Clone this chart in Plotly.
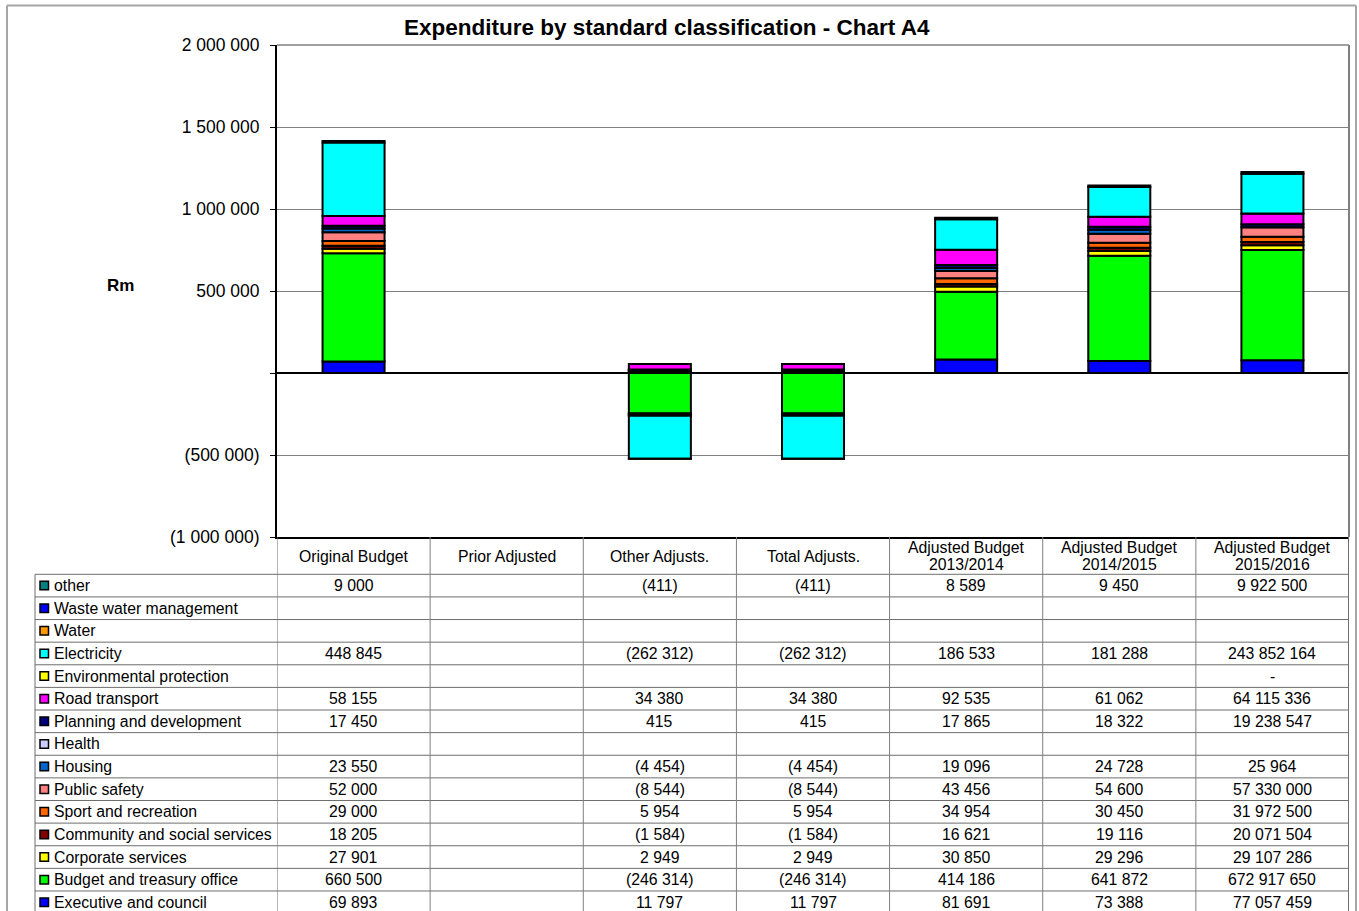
import plotly.graph_objects as go

# ---- data -------------------------------------------------------------
categories = [
    "Original Budget",
    "Prior Adjusted",
    "Other Adjusts.",
    "Total Adjusts.",
    "Adjusted Budget\n2013/2014",
    "Adjusted Budget\n2014/2015",
    "Adjusted Budget\n2015/2016",
]

# the last column of the table is stated in Rand, the others in R thousand
unit_divisor = [1, 1, 1, 1, 1, 1, 1000]

# series listed from the bottom of the stack upwards
series_names = [
    "Executive and council",
    "Budget and treasury office",
    "Corporate services",
    "Community and social services",
    "Sport and recreation",
    "Public safety",
    "Housing",
    "Health",
    "Planning and development",
    "Road transport",
    "Environmental protection",
    "Electricity",
    "Water",
    "Waste water management",
    "other",
]

executive = [69893, None, 11797, 11797, 81691, 73388, 77057459]
budget_treasury = [660500, None, -246314, -246314, 414186, 641872, 672917650]
corporate = [27901, None, 2949, 2949, 30850, 29296, 29107286]
community = [18205, None, -1584, -1584, 16621, 19116, 20071504]
sport = [29000, None, 5954, 5954, 34954, 30450, 31972500]
public_safety = [52000, None, -8544, -8544, 43456, 54600, 57330000]
housing = [23550, None, -4454, -4454, 19096, 24728, 25964]
health = [None, None, None, None, None, None, None]
planning = [17450, None, 415, 415, 17865, 18322, 19238547]
road_transport = [58155, None, 34380, 34380, 92535, 61062, 64115336]
environmental = [None, None, None, None, None, None, 0]
electricity = [448845, None, -262312, -262312, 186533, 181288, 243852164]
water = [None, None, None, None, None, None, None]
waste_water = [None, None, None, None, None, None, None]
other = [9000, None, -411, -411, 8589, 9450, 9922500]

series_values = [
    executive, budget_treasury, corporate, community, sport, public_safety,
    housing, health, planning, road_transport, environmental, electricity,
    water, waste_water, other,
]

series_colors = [
    "#0000FF", "#00FF00", "#FFFF00", "#800000", "#FF6600", "#FF8080",
    "#0066CC", "#CCCCFF", "#000080", "#FF00FF", "#FFFF00", "#00FFFF",
    "#FF9900", "#0000FF", "#008080",
]

y_ticks = [-1000000, -500000, 0, 500000, 1000000, 1500000, 2000000]

FONT = "Liberation Sans, Arial, sans-serif"
TABLE_FONT_SIZE = 15.8


def fmt(v):
    """Accounting style: spaces as thousands separators, negatives in brackets."""
    if v is None:
        return ""
    if v == 0:
        return "-"
    s = f"{abs(round(v)):,}".replace(",", " ")
    return f"({s})" if v < 0 else s


def fmt_axis(v):
    return "" if v == 0 else fmt(v)


# ---- geometry of the plot area (pixels) -------------------------------
FIG_W, FIG_H = 1359, 911
L, R, T, B = 277, 1349, 45, 537
W, H = R - L, B - T


def px(x):
    return (x - L) / W


def py(y):
    return (B - y) / H


fig = go.Figure()

for name, vals, col in zip(series_names, series_values, series_colors):
    chart_vals = [None if v is None else v / d for v, d in zip(vals, unit_divisor)]
    fig.add_trace(go.Bar(
        x=list(range(len(categories))),
        y=chart_vals,
        name=name,
        marker=dict(color=col, line=dict(color="black", width=2)),
        showlegend=False,
        hoverinfo="skip",
    ))

shapes = []
annotations = []

# outer chart frame
frame = dict(color="#a6a6a6", width=2)
shapes.append(dict(type="line", xref="paper", yref="paper",
                   x0=px(7), x1=px(7), y0=py(5.5), y1=py(FIG_H + 20), line=frame))
shapes.append(dict(type="line", xref="paper", yref="paper",
                   x0=px(7), x1=px(1356), y0=py(5.5), y1=py(5.5), line=frame))
shapes.append(dict(type="line", xref="paper", yref="paper",
                   x0=px(1356), x1=px(1356), y0=py(5.5), y1=py(FIG_H + 20), line=frame))

# top and right edges of the plot area
shapes.append(dict(type="line", xref="paper", yref="paper",
                   x0=0, x1=1, y0=1, y1=1, line=dict(color="#808080", width=1.5)))
shapes.append(dict(type="line", xref="paper", yref="paper",
                   x0=1, x1=1, y0=0, y1=1, line=dict(color="#808080", width=2)))

# ---- data table under the chart ---------------------------------------
HEADER_BOTTOM = 574.3
ROW_H = 22.62
TABLE_LEFT = 35
KEY_X0, KEY_SIZE = 40, 8.5
LABEL_X = 52
grid_col = "#6e6e6e"
n_rows = len(series_names)

# horizontal rules
for i in range(n_rows + 1):
    yy = HEADER_BOTTOM + i * ROW_H
    shapes.append(dict(type="line", xref="paper", yref="paper",
                       x0=px(TABLE_LEFT), x1=1, y0=py(yy), y1=py(yy),
                       line=dict(color=grid_col, width=1)))
# vertical rules
table_bottom = py(FIG_H + 20)
shapes.append(dict(type="line", xref="paper", yref="paper",
                   x0=px(TABLE_LEFT), x1=px(TABLE_LEFT), y0=py(HEADER_BOTTOM), y1=table_bottom,
                   line=dict(color=grid_col, width=1)))
for k in range(len(categories) + 1):
    shapes.append(dict(type="line", xref="x", yref="paper",
                       x0=k - 0.5, x1=k - 0.5, y0=0, y1=table_bottom,
                       line=dict(color="#808080" if 0 < k < len(categories) else grid_col,
                                 width=2 if k == len(categories) else 1)))

# header row: category names
for k, cat in enumerate(categories):
    lines = cat.split("\n")
    centres = [556] if len(lines) == 1 else [547.5, 564]
    for text, yc in zip(lines, centres):
        annotations.append(dict(xref="x", yref="paper", x=k, y=py(yc),
                                text=text, showarrow=False, xanchor="center", yanchor="middle",
                                font=dict(family=FONT, size=TABLE_FONT_SIZE, color="black")))

# body rows: legend key, series name, values (top row = last series)
for r, idx in enumerate(reversed(range(n_rows))):
    yc = HEADER_BOTTOM + r * ROW_H + ROW_H / 2
    shapes.append(dict(type="rect", xref="paper", yref="paper",
                       x0=px(KEY_X0), x1=px(KEY_X0 + KEY_SIZE),
                       y0=py(yc + KEY_SIZE / 2), y1=py(yc - KEY_SIZE / 2),
                       fillcolor=series_colors[idx], line=dict(color="black", width=1.5)))
    annotations.append(dict(xref="paper", yref="paper", x=px(LABEL_X), y=py(yc),
                            text=series_names[idx], showarrow=False,
                            xanchor="left", yanchor="middle",
                            font=dict(family=FONT, size=TABLE_FONT_SIZE, color="black")))
    for k, v in enumerate(series_values[idx]):
        t = fmt(v)
        if t:
            annotations.append(dict(xref="x", yref="paper", x=k, y=py(yc),
                                    text=t, showarrow=False, xanchor="center", yanchor="middle",
                                    font=dict(family=FONT, size=TABLE_FONT_SIZE, color="black")))

# title and axis caption
annotations.append(dict(xref="paper", yref="paper", x=px(667), y=py(28),
                        text="<b>Expenditure by standard classification - Chart A4</b>",
                        showarrow=False, xanchor="center", yanchor="middle",
                        font=dict(family=FONT, size=22.5, color="black")))
annotations.append(dict(xref="paper", yref="paper", x=px(120), y=py(285),
                        text="<b>Rm</b>", showarrow=False, xanchor="center", yanchor="middle",
                        font=dict(family=FONT, size=17, color="black")))

fig.update_layout(
    width=FIG_W, height=FIG_H, autosize=False,
    margin=dict(l=L, r=FIG_W - R, t=T, b=FIG_H - B, pad=0),
    paper_bgcolor="white", plot_bgcolor="white",
    barmode="relative", bargap=0.595,
    shapes=shapes, annotations=annotations,
    font=dict(family=FONT, color="black"),
    xaxis=dict(range=[-0.5, len(categories) - 0.5], showticklabels=False, ticks="",
               showgrid=False, zeroline=False, showline=True,
               linecolor="black", linewidth=2, fixedrange=True),
    yaxis=dict(range=[y_ticks[0], y_ticks[-1]], tickmode="array",
               tickvals=y_ticks, ticktext=[fmt_axis(v) for v in y_ticks],
               ticks="outside", ticklen=5, tickcolor="black", tickwidth=1,
               ticklabelstandoff=7,
               tickfont=dict(family=FONT, size=17.5, color="black"),
               showgrid=True, gridcolor="#808080", gridwidth=1,
               zeroline=True, zerolinecolor="black", zerolinewidth=1.5,
               showline=True, linecolor="black", linewidth=2, fixedrange=True),
)

fig.write_html("out.html")
